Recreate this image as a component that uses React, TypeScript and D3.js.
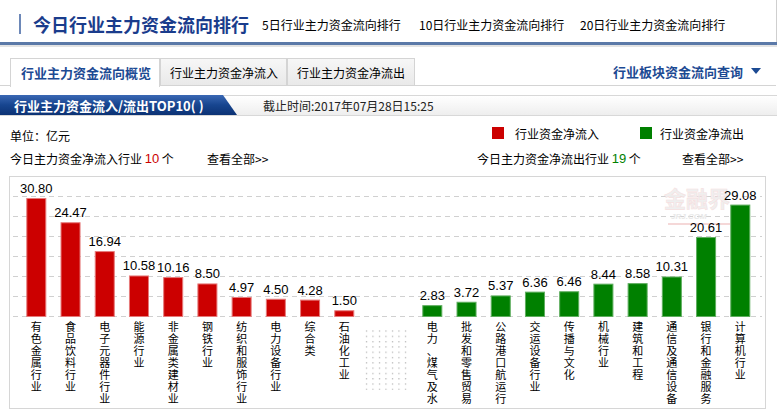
import React from 'react';
import * as d3 from 'd3';

// inflow industries (red), outflow industries (green), unit: 亿元
const inNames = ['有色金属行业', '食品饮料行业', '电子元器件行业', '能源行业', '非金属类建材业', '钢铁行业', '纺织和服饰行业', '电力设备行业', '综合类', '石油化工业'];
const inValues = [30.80, 24.47, 16.94, 10.58, 10.16, 8.50, 4.97, 4.50, 4.28, 1.50];
const outNames = ['电力、煤气及水', '批发和零售贸易', '公路港口航运行', '交运设备行业', '传播与文化', '机械行业', '建筑和工程', '通信及通信设备', '银行和金融服务', '计算机行业'];
const outValues = [2.83, 3.72, 5.37, 6.36, 6.46, 8.44, 8.58, 10.31, 20.61, 29.08];
const headLinks = ['5日行业主力资金流向排行', '10日行业主力资金流向排行', '20日行业主力资金流向排行'];
const tabs = ['行业主力资金流向概览', '行业主力资金净流入', '行业主力资金净流出'];

const W = 779;
const H = 417;
const CJK = '"Noto Sans CJK SC", "Noto Sans", sans-serif';
const NUM = '"Liberation Sans", Arial, sans-serif';
const RED = '#cc0000';
const GREEN = '#008000';

const yMax = 36.54;
const y = d3.scaleLinear().domain([0, yMax]).range([316, 176]);
const gridVals = d3.range(0, 7).map(i => (i * yMax) / 7);
const xIn = d3.scaleBand<string>().domain(inNames).range([19.2, 361.4]).paddingInner(0.415).paddingOuter(0.2075);
const xOut = d3.scaleBand<string>().domain(outNames).range([415.2, 757.4]).paddingInner(0.415).paddingOuter(0.2075);

function Bars({ names, values, x, color, stroke }: any) {
  return (
    <g>
      {names.map((n: string, i: number) => {
        const v = values[i];
        const cx = x(n) + x.bandwidth() / 2;
        return (
          <g key={n}>
            <rect x={x(n) + 0.5} y={y(v) + 0.5} width={x.bandwidth() - 1} height={y(0) - y(v)}
              fill={color} stroke={stroke} strokeWidth={1} />
            <text x={cx} y={y(v) - 5} textAnchor="middle" fontFamily={NUM} fontSize={13} fill="#000">
              {v.toFixed(2)}
            </text>
            <text fontFamily={CJK} fontSize={11} fill="#000" textAnchor="middle">
              {Array.from(n).map((ch, j) => (
                <tspan key={j} x={cx} y={326 + j * 12} dominantBaseline="central">{ch}</tspan>
              ))}
            </text>
          </g>
        );
      })}
    </g>
  );
}

export default function App() {
  const linkX = [262, 419, 580];
  const tabX = [10, 160, 287, 415];
  return (
    <svg width={W} height={H} style={{ position: 'absolute', left: 0, top: 0, background: '#fff' }}
      fontFamily={CJK}>
      <defs>
        <linearGradient id="ribbon" x1="0" y1="0" x2="0" y2="1">
          <stop offset="0" stopColor="#3a68b4" />
          <stop offset="0.5" stopColor="#17458f" />
          <stop offset="1" stopColor="#0c3274" />
        </linearGradient>
        <linearGradient id="greybar" x1="0" y1="0" x2="0" y2="1">
          <stop offset="0" stopColor="#ffffff" />
          <stop offset="1" stopColor="#eeeeee" />
        </linearGradient>
        <linearGradient id="tabg" x1="0" y1="0" x2="0" y2="1">
          <stop offset="0" stopColor="#f7f7f7" />
          <stop offset="1" stopColor="#e9e9e9" />
        </linearGradient>
        <pattern id="dots" width="6.5" height="5.3" patternUnits="userSpaceOnUse">
          <rect x="2" y="2" width="1" height="1" fill="#8a8a8a" />
        </pattern>
      </defs>

      {/* header */}
      <rect x={19} y={14} width={2} height={20} fill="#6d88b8" />
      <text x={33} y={24} dominantBaseline="central" fontSize={18} fontWeight="bold" fill="#1a3c8c">今日行业主力资金流向排行</text>
      {headLinks.map((t, i) => (
        <text key={t} x={linkX[i]} y={24} dominantBaseline="central" fontSize={12} fill="#000">{t}</text>
      ))}
      <line x1={776.5} y1={0} x2={776.5} y2={46} stroke="#cfcfcf" />
      <rect x={0} y={42} width={777} height={3} fill="#5b79a8" />
      <rect x={0} y={45} width={777} height={2} fill="#e3e3e3" />

      {/* tabs */}
      <line x1={0} y1={85.5} x2={776} y2={85.5} stroke="#d4d4d4" />
      {tabs.map((t, i) => (
        <g key={t}>
          <rect x={tabX[i] + 0.5} y={58.5} width={tabX[i + 1] - tabX[i] - 1} height={i === 0 ? 28 : 27}
            fill={i === 0 ? '#ffffff' : 'url(#tabg)'} stroke="#d4d4d4" />
          <text x={i === 0 ? 21 : tabX[i] + 10} y={72} dominantBaseline="central" fontSize={i === 0 ? 13 : 12}
            fontWeight={i === 0 ? 'bold' : 'normal'} fill={i === 0 ? '#1c4a93' : '#000'}>{t}</text>
        </g>
      ))}
      {/* cover under active tab */}
      <rect x={11} y={84} width={148} height={3} fill="#fff" />
      <text x={613} y={71} dominantBaseline="central" fontSize={13} fontWeight="bold" fill="#1c4a93">行业板块资金流向查询</text>
      <path d="M751,68 L761,68 L756,74 Z" fill="#1c4a93" />

      {/* section bar */}
      <rect x={0} y={96} width={777} height={19} fill="url(#greybar)" />
      <line x1={0} y1={95.5} x2={777} y2={95.5} stroke="#d8d8d8" />
      <line x1={0} y1={115.5} x2={777} y2={115.5} stroke="#d8d8d8" />
      <path d="M0,95 L223,95 L237,115 L0,115 Z" fill="url(#ribbon)" />
      <text x={14} y={105} dominantBaseline="central" fontSize={13} fontWeight="bold" fill="#fff">行业主力资金流入/流出TOP10( )</text>
      <text x={263} y={105} dominantBaseline="central" fontSize={12} fill="#222">截止时间:2017年07月28日15:25</text>

      {/* info + legend */}
      <text x={10} y={135} dominantBaseline="central" fontSize={12} fill="#000">单位：亿元</text>
      <text x={10} y={158} dominantBaseline="central" fontSize={12} fill="#000">
        今日主力资金净流入行业 <tspan fill={RED} fontFamily={NUM} fontSize={13}>{inNames.length}</tspan> 个
      </text>
      <text x={207} y={158} dominantBaseline="central" fontSize={12} fill="#000">查看全部&gt;&gt;</text>
      <rect x={492} y={127} width={12} height={12} fill={RED} />
      <text x={515} y={133} dominantBaseline="central" fontSize={12} fill="#000">行业资金净流入</text>
      <rect x={640} y={127} width={12} height={12} fill={GREEN} />
      <text x={660} y={133} dominantBaseline="central" fontSize={12} fill="#000">行业资金净流出</text>
      <text x={477} y={158} dominantBaseline="central" fontSize={12} fill="#000">
        今日主力资金净流出行业 <tspan fill={GREEN} fontFamily={NUM} fontSize={13}>19</tspan> 个
      </text>
      <text x={682} y={158} dominantBaseline="central" fontSize={12} fill="#000">查看全部&gt;&gt;</text>

      {/* chart box */}
      <rect x={9.5} y={176.5} width={756} height={232} fill="#fff" stroke="#d6d6d6" />
      {gridVals.map(v => (
        <line key={v} x1={13} x2={762} y1={Math.round(y(v)) + 0.5} y2={Math.round(y(v)) + 0.5}
          stroke="#d0d0d0" strokeDasharray="5,4" />
      ))}
      {/* watermark */}
      <g opacity={0.9}>
        <text x={664} y={207} fontSize={22} fontWeight="bold" fill="#eeeeee" stroke="#f6dede" strokeWidth={0.6}>金融界</text>
        <text x={671} y={219} fontSize={8} fontStyle="italic" fontWeight="bold" fontFamily={NUM} fill="#e6e6e6">JRJ.COM</text>
        <line x1={668} y1={224} x2={730} y2={224} stroke="#f4d4d4" strokeWidth={2} />
      </g>
      <rect x={362} y={330} width={45} height={60} fill="url(#dots)" />

      <Bars names={inNames} values={inValues} x={xIn} color={RED} stroke="#e67a7a" />
      <Bars names={outNames} values={outValues} x={xOut} color={GREEN} stroke="#5fae5f" />
    </svg>
  );
}
